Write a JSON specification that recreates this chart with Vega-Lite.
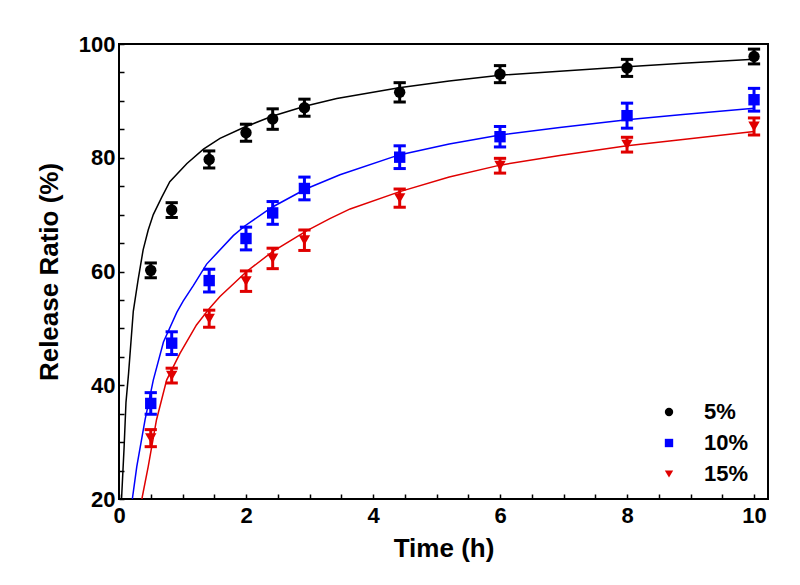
{
  "$schema": "https://vega.github.io/schema/vega-lite/v6.json",
  "width": 649,
  "height": 455,
  "autosize": {"type": "none"},
  "padding": {"left": 119, "top": 44, "right": 32, "bottom": 86},
  "background": "white",
  "config": {
    "view": {"stroke": "black", "strokeWidth": 2},
    "font": "Liberation Sans",
    "axis": {
      "domain": false,
      "grid": false,
      "tickColor": "black",
      "tickWidth": 1.5,
      "tickSize": -5,
      "labelFont": "Liberation Sans",
      "labelFontSize": 22,
      "labelFontWeight": "bold",
      "labelColor": "black",
      "titleFont": "Liberation Sans",
      "titleFontSize": 26,
      "titleFontWeight": "bold",
      "titleColor": "black"
    },
    "legend": {
      "title": null,
      "orient": "none",
      "legendX": 539,
      "legendY": 357,
      "padding": 0,
      "symbolSize": 70,
      "labelOffset": 24,
      "rowPadding": 9,
      "symbolStrokeWidth": 0,
      "labelFont": "Liberation Sans",
      "labelFontSize": 22,
      "labelFontWeight": "bold",
      "labelColor": "black"
    }
  },
  "datasets": {
    "pts": [
      {"g": "5%", "t": 0.5, "r": 60.2, "e": 1.3},
      {"g": "5%", "t": 0.83, "r": 70.8, "e": 1.3},
      {"g": "5%", "t": 1.42, "r": 79.7, "e": 1.5},
      {"g": "5%", "t": 2.0, "r": 84.4, "e": 1.5},
      {"g": "5%", "t": 2.42, "r": 86.8, "e": 1.8},
      {"g": "5%", "t": 2.92, "r": 88.8, "e": 1.5},
      {"g": "5%", "t": 4.42, "r": 91.5, "e": 1.7},
      {"g": "5%", "t": 6.0, "r": 94.7, "e": 1.5},
      {"g": "5%", "t": 8.0, "r": 95.8, "e": 1.5},
      {"g": "5%", "t": 10.0, "r": 97.8, "e": 1.3},
      {"g": "10%", "t": 0.5, "r": 36.8, "e": 1.9},
      {"g": "10%", "t": 0.83, "r": 47.4, "e": 2.0},
      {"g": "10%", "t": 1.42, "r": 58.4, "e": 2.0},
      {"g": "10%", "t": 2.0, "r": 65.8, "e": 2.0},
      {"g": "10%", "t": 2.42, "r": 70.3, "e": 2.0},
      {"g": "10%", "t": 2.92, "r": 74.6, "e": 2.0},
      {"g": "10%", "t": 4.42, "r": 80.1, "e": 2.0},
      {"g": "10%", "t": 6.0, "r": 83.7, "e": 1.8},
      {"g": "10%", "t": 8.0, "r": 87.4, "e": 2.2},
      {"g": "10%", "t": 10.0, "r": 90.2, "e": 2.0},
      {"g": "15%", "t": 0.5, "r": 30.7, "e": 1.5},
      {"g": "15%", "t": 0.83, "r": 41.7, "e": 1.3},
      {"g": "15%", "t": 1.42, "r": 51.7, "e": 1.5},
      {"g": "15%", "t": 2.0, "r": 58.3, "e": 1.8},
      {"g": "15%", "t": 2.42, "r": 62.3, "e": 1.8},
      {"g": "15%", "t": 2.92, "r": 65.5, "e": 1.8},
      {"g": "15%", "t": 4.42, "r": 72.9, "e": 1.6},
      {"g": "15%", "t": 6.0, "r": 78.6, "e": 1.3},
      {"g": "15%", "t": 8.0, "r": 82.3, "e": 1.3},
      {"g": "15%", "t": 10.0, "r": 85.5, "e": 1.5}
    ],
    "fit": [
      {"g": "5%", "t": 0.04, "r": 20},
      {"g": "5%", "t": 0.08, "r": 29},
      {"g": "5%", "t": 0.11, "r": 37},
      {"g": "5%", "t": 0.15, "r": 42},
      {"g": "5%", "t": 0.225, "r": 53},
      {"g": "5%", "t": 0.3, "r": 58.5},
      {"g": "5%", "t": 0.38, "r": 63.8},
      {"g": "5%", "t": 0.46, "r": 67.3},
      {"g": "5%", "t": 0.54, "r": 70.0},
      {"g": "5%", "t": 0.67, "r": 73.0},
      {"g": "5%", "t": 0.8, "r": 75.8},
      {"g": "5%", "t": 1.07, "r": 79.0},
      {"g": "5%", "t": 1.33, "r": 81.5},
      {"g": "5%", "t": 1.59, "r": 83.4},
      {"g": "5%", "t": 1.98, "r": 85.4},
      {"g": "5%", "t": 2.41, "r": 87.3},
      {"g": "5%", "t": 2.94, "r": 89.1},
      {"g": "5%", "t": 3.43, "r": 90.4},
      {"g": "5%", "t": 4.41, "r": 92.3},
      {"g": "5%", "t": 5.2, "r": 93.5},
      {"g": "5%", "t": 6.0, "r": 94.5},
      {"g": "5%", "t": 6.94, "r": 95.2},
      {"g": "5%", "t": 8.0, "r": 96.0},
      {"g": "5%", "t": 8.88, "r": 96.6},
      {"g": "5%", "t": 10.0, "r": 97.3},
      {"g": "10%", "t": 0.21, "r": 20},
      {"g": "10%", "t": 0.28, "r": 25.7},
      {"g": "10%", "t": 0.41, "r": 33.9},
      {"g": "10%", "t": 0.54, "r": 40.9},
      {"g": "10%", "t": 0.7, "r": 47.6},
      {"g": "10%", "t": 0.91, "r": 52.8},
      {"g": "10%", "t": 1.01, "r": 54.8},
      {"g": "10%", "t": 1.17, "r": 57.5},
      {"g": "10%", "t": 1.38, "r": 61.3},
      {"g": "10%", "t": 1.8, "r": 66.3},
      {"g": "10%", "t": 1.98, "r": 68.0},
      {"g": "10%", "t": 2.41, "r": 71.3},
      {"g": "10%", "t": 2.94, "r": 74.5},
      {"g": "10%", "t": 3.48, "r": 77.0},
      {"g": "10%", "t": 4.41, "r": 80.5},
      {"g": "10%", "t": 5.2, "r": 82.4},
      {"g": "10%", "t": 6.0, "r": 84.0},
      {"g": "10%", "t": 6.94, "r": 85.3},
      {"g": "10%", "t": 8.0, "r": 86.7},
      {"g": "10%", "t": 8.88, "r": 87.6},
      {"g": "10%", "t": 10.0, "r": 88.7},
      {"g": "15%", "t": 0.36, "r": 20},
      {"g": "15%", "t": 0.46, "r": 25.7},
      {"g": "15%", "t": 0.59, "r": 33.9},
      {"g": "15%", "t": 0.75, "r": 40.9},
      {"g": "15%", "t": 0.96, "r": 45.6},
      {"g": "15%", "t": 1.22, "r": 50.6},
      {"g": "15%", "t": 1.43, "r": 53.6},
      {"g": "15%", "t": 1.59, "r": 55.6},
      {"g": "15%", "t": 2.01, "r": 60.0},
      {"g": "15%", "t": 2.43, "r": 63.6},
      {"g": "15%", "t": 2.96, "r": 67.2},
      {"g": "15%", "t": 3.32, "r": 69.3},
      {"g": "15%", "t": 3.64, "r": 71.0},
      {"g": "15%", "t": 4.41, "r": 74.0},
      {"g": "15%", "t": 5.2, "r": 76.6},
      {"g": "15%", "t": 6.0, "r": 78.7},
      {"g": "15%", "t": 6.94, "r": 80.4},
      {"g": "15%", "t": 8.0, "r": 82.1},
      {"g": "15%", "t": 8.88, "r": 83.2},
      {"g": "15%", "t": 10.0, "r": 84.6}
    ]
  },
  "resolve": {"axis": {"x": "independent", "y": "independent"}},
  "layer": [
    {
      "data": {"name": "fit"},
      "mark": {"type": "line", "strokeWidth": 1.5, "interpolate": "linear", "clip": true},
      "encoding": {
        "x": {"field": "t", "type": "quantitative",
          "scale": {"domain": [0, 10.22], "nice": false, "zero": false},
          "axis": {"orient": "bottom", "title": "Time (h)", "values": [0,0.5,1,1.5,2,2.5,3,3.5,4,4.5,5,5.5,6,6.5,7,7.5,8,8.5,9,9.5,10],
            "labelExpr": "datum.value % 2 == 0 ? '' + datum.value : ''", "labelPadding": 11, "titlePadding": 9, "labelFlush": false, "labelOverlap": false}},
        "y": {"field": "r", "type": "quantitative",
          "scale": {"domain": [20, 100], "nice": false, "zero": false},
          "axis": {"orient": "left", "title": "Release Ratio (%)", "values": [20,25,30,35,40,45,50,55,60,65,70,75,80,85,90,95,100],
            "labelExpr": "datum.value % 20 == 0 ? '' + datum.value : ''", "labelPadding": 9, "titlePadding": 16, "labelFlush": false, "labelOverlap": false}},
        "color": {"field": "g", "type": "nominal", "scale": {"domain": ["5%", "10%", "15%"], "range": ["#000000", "#0000ff", "#e00000"]}},
        "detail": {"field": "g"}
      }
    },
    {
      "data": {"name": "pts"},
      "transform": [{"calculate": "datum.r - datum.e", "as": "lo"}, {"calculate": "datum.r + datum.e", "as": "hi"}],
      "layer": [
        {
          "mark": {"type": "rule", "strokeWidth": 3},
          "encoding": {
            "x": {"field": "t", "type": "quantitative", "axis": null},
            "y": {"field": "lo", "type": "quantitative", "axis": null},
            "y2": {"field": "hi"},
            "color": {"field": "g", "type": "nominal"}
          }
        },
        {
          "mark": {"type": "point", "shape": "M -1 0 L 1 0", "filled": false, "size": 150, "strokeWidth": 3, "opacity": 1},
          "encoding": {
            "x": {"field": "t", "type": "quantitative", "axis": null},
            "y": {"field": "lo", "type": "quantitative", "axis": null},
            "color": {"field": "g", "type": "nominal"}
          }
        },
        {
          "mark": {"type": "point", "shape": "M -1 0 L 1 0", "filled": false, "size": 150, "strokeWidth": 3, "opacity": 1},
          "encoding": {
            "x": {"field": "t", "type": "quantitative", "axis": null},
            "y": {"field": "hi", "type": "quantitative", "axis": null},
            "color": {"field": "g", "type": "nominal"}
          }
        },
        {
          "mark": {"type": "point", "filled": true, "size": 130, "opacity": 1},
          "encoding": {
            "x": {"field": "t", "type": "quantitative",
              "axis": {"orient": "top", "title": null, "labels": false, "values": [0,0.5,1,1.5,2,2.5,3,3.5,4,4.5,5,5.5,6,6.5,7,7.5,8,8.5,9,9.5,10]}},
            "y": {"field": "r", "type": "quantitative",
              "axis": {"orient": "right", "title": null, "labels": false, "values": [20,25,30,35,40,45,50,55,60,65,70,75,80,85,90,95,100]}},
            "color": {"field": "g", "type": "nominal"},
            "shape": {"field": "g", "type": "nominal", "scale": {"domain": ["5%", "10%", "15%"], "range": ["circle", "square", "triangle-down"]}}
          }
        }
      ]
    }
  ]
}
